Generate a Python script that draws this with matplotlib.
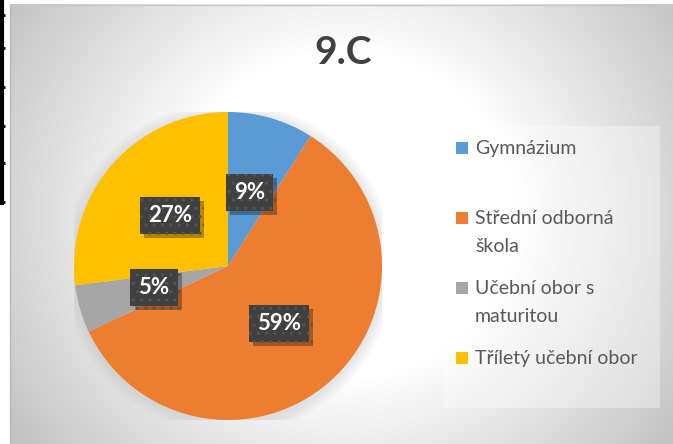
import numpy as np
import matplotlib
matplotlib.use("Agg")
import matplotlib.pyplot as plt
from matplotlib.patches import Rectangle, Circle
import matplotlib.patheffects as pe

# ---- data ----
title = "9.C"
categories = ["Gymnázium", "Střední odborná škola", "Učební obor s maturitou", "Tříletý učební obor"]
legend_lines = [["Gymnázium"], ["Střední odborná", "škola"], ["Učební obor s", "maturitou"], ["Tříletý učební obor"]]
values = [9, 59, 5, 27]
colors = ["#5B9BD5", "#ED7D31", "#A5A5A5", "#FFC000"]

plt.rcParams['font.family'] = ['Lato', 'DejaVu Sans']

W, H = 673, 444
fig = plt.figure(figsize=(W / 100, H / 100), dpi=100)
fig.patch.set_facecolor("white")

# background axes in pixel coordinates
bg = fig.add_axes([0, 0, 1, 1])
bg.set_xlim(0, W)
bg.set_ylim(H, 0)
bg.axis("off")

# radial gradient chart area
x0, y0 = 10, 5
xs = np.linspace(x0, W, 330)
ys = np.linspace(y0, H, 220)
X, Y = np.meshgrid(xs, ys)
cx, cy = 345, 215
d = np.hypot(X - cx, (Y - cy) * 1.05)
t = np.clip((d - 170) / (400 - 170), 0, 1)
g = 1.0 - 0.23 * t
img = np.dstack([g, g, g])
bg.imshow(img, extent=(x0, W, H, y0), aspect="auto", interpolation="bilinear", zorder=0)
bg.plot([x0, x0], [y0, H], color="#b8b8b8", lw=1, zorder=1)
bg.plot([x0, W], [y0, y0], color="#c8c8c8", lw=1, zorder=1)

# black dashed mark on the left margin
bg.plot([1.5, 1.5], [0, 205], color="black", lw=3, zorder=1, solid_capstyle="butt")
for yy in [15, 48, 87, 126, 163, 202]:
    bg.plot([1.5, 4.5], [yy, yy], color="black", lw=2, zorder=1, solid_capstyle="butt")

# title
bg.text(343, 52, title, ha="center", va="center", fontsize=28, fontweight="bold",
        color="#404040", zorder=2)

# legend box
bg.add_patch(Rectangle((444, 126), 216, 282, facecolor="white", alpha=0.35,
                       edgecolor="none", zorder=1))
for i, (lines, c) in enumerate(zip(legend_lines, colors)):
    base = 154 + i * 70
    bg.add_patch(Rectangle((456, base - 12), 12, 12, facecolor=c, edgecolor="none", zorder=2))
    for k, line in enumerate(lines):
        bg.text(475, base + k * 28, line, ha="left", va="baseline", fontsize=14,
                color="#595959", zorder=2)

# pie axes: centre (228, 266) px, radius 154 px
pcx, pcy, r = 228, 266, 154
ax = fig.add_axes([(pcx - r) / W, (H - pcy - r) / H, 2 * r / W, 2 * r / H])
ax.set_zorder(3)
ax.patch.set_alpha(0)

# soft shadow around pie
for k in range(8):
    ax.add_patch(Circle((0.005, -0.01), 1.0 + 0.01 * (k + 1), facecolor="#909090",
                        alpha=0.022, edgecolor="none", zorder=0))

wedges, texts, autotexts = ax.pie(
    values, colors=colors, startangle=90, counterclock=False,
    autopct=lambda p: f"{p:.0f}%", pctdistance=0.5, radius=1.0,
    wedgeprops=dict(linewidth=0, zorder=2),
    textprops=dict(color="white", fontsize=16, fontweight="bold"))
for t_ in autotexts:
    t_.set_zorder(5)
    t_.set_bbox(dict(boxstyle="square,pad=0.36", facecolor="#404040",
                     edgecolor="#555555", linewidth=0, hatch=".."))
    t_.get_bbox_patch().set_path_effects([
        pe.SimplePatchShadow(offset=(3, -3), shadow_rgbFace="black", alpha=0.3),
        pe.Normal()])
ax.set_xlim(-1, 1)
ax.set_ylim(-1, 1)
ax.set_aspect("equal")
ax.axis("off")

fig.savefig("out.png", dpi=100)
